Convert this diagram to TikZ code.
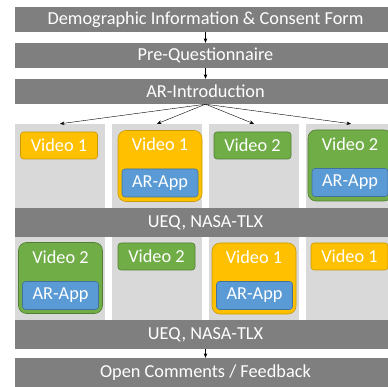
\documentclass[tikz,border=0pt]{standalone}
\usepackage{fontspec}
\setmainfont{Carlito}
\usetikzlibrary{arrows.meta}
\definecolor{barGray}{HTML}{7F7F7F}
\definecolor{colGray}{HTML}{D9D9D9}
\definecolor{yellowFill}{HTML}{FFC000}
\definecolor{yellowEdge}{HTML}{C99A06}
\definecolor{greenFill}{HTML}{70AD47}
\definecolor{greenEdge}{HTML}{507E32}
\definecolor{blueFill}{HTML}{5B9BD5}
\definecolor{blueEdge}{HTML}{41719C}
\begin{document}
\begin{tikzpicture}[x=1pt, y=-1pt, font=\fontsize{18.3}{21}\selectfont, >={Stealth[length=4.5pt,width=3.5pt]},
	bar/.style={fill=barGray, text=white, minimum width=381pt, inner sep=0pt},
	col/.style={fill=colGray, minimum width=90pt, minimum height=84pt, inner sep=0pt},
	vid/.style={draw=#1Edge, fill=#1Fill, text=white, rounded corners=3pt, minimum width=77pt, minimum height=27pt, inner sep=0pt, line width=.6pt},
	big/.style={draw=#1Edge, fill=#1Fill, rounded corners=8pt, minimum width=84pt, minimum height=71pt, inner sep=0pt, line width=.6pt},
	app/.style={vid=blue, minimum width=76pt, minimum height=28pt},
	lbl/.style={text=white, inner sep=0pt},
	line/.style={->, line width=.4pt}]
	\useasboundingbox (0,0) rectangle (388,387);
	\clip (0,0) rectangle (388,387);
	% top of the procedure
	\node[bar, minimum height=25pt] (demo) at (205.5,19.5) {Demographic Information \& Consent Form};
	\node[bar, minimum height=25pt] (pre) at (205.5,55.5) {Pre-Questionnaire};
	\node[bar, minimum height=25pt] (intro) at (205.5,91.5) {AR-Introduction};
	% condition columns
	\foreach \i/\x in {1/60,2/157,3/254,4/351} {
		\node[col] (up\i) at (\x,166) {};
		\node[col] (lo\i) at (\x,278.5) {};
	}
	\node[bar, minimum height=29pt] (ueqA) at (205.5,222.5) {UEQ, NASA-TLX};
	\node[bar, minimum height=29pt] (ueqB) at (205.5,334.5) {UEQ, NASA-TLX};
	\node[bar, minimum height=30pt] (open) at (205.5,373) {Open Comments / Feedback};
	% first block
	\node[vid=yellow] (v1) at (59,145.5) {Video 1};
	\node[big=yellow] (b2) at (160,166) {};
	\node[lbl] at (160,144) {Video 1};
	\node[app] (a2) at (160,183) {AR-App};
	\node[vid=green] (v3) at (252.5,145.5) {Video 2};
	\node[big=green] (b4) at (350,165.5) {};
	\node[lbl] at (350,144) {Video 2};
	\node[app] (a4) at (350,182.5) {AR-App};
	% second block
	\node[big=green] (b5) at (60.5,278) {};
	\node[lbl] at (60.5,257) {Video 2};
	\node[app] (a5) at (60.5,295.5) {AR-App};
	\node[vid=green] (v6) at (156.5,256.5) {Video 2};
	\node[big=yellow] (b7) at (254,278.5) {};
	\node[lbl] at (254,257) {Video 1};
	\node[app] (a7) at (254.5,295.5) {AR-App};
	\node[vid=yellow] (v8) at (349.5,256.5) {Video 1};
	% arrows
	\draw[line] (demo.south) -- (pre.north);
	\draw[line] (pre.south) -- (intro.north);
	\foreach \i in {1,...,4} \draw[line] (intro.south) -- (up\i.north);
	\draw[line] (ueqB.south) -- (open.north);
\end{tikzpicture}
\end{document}
